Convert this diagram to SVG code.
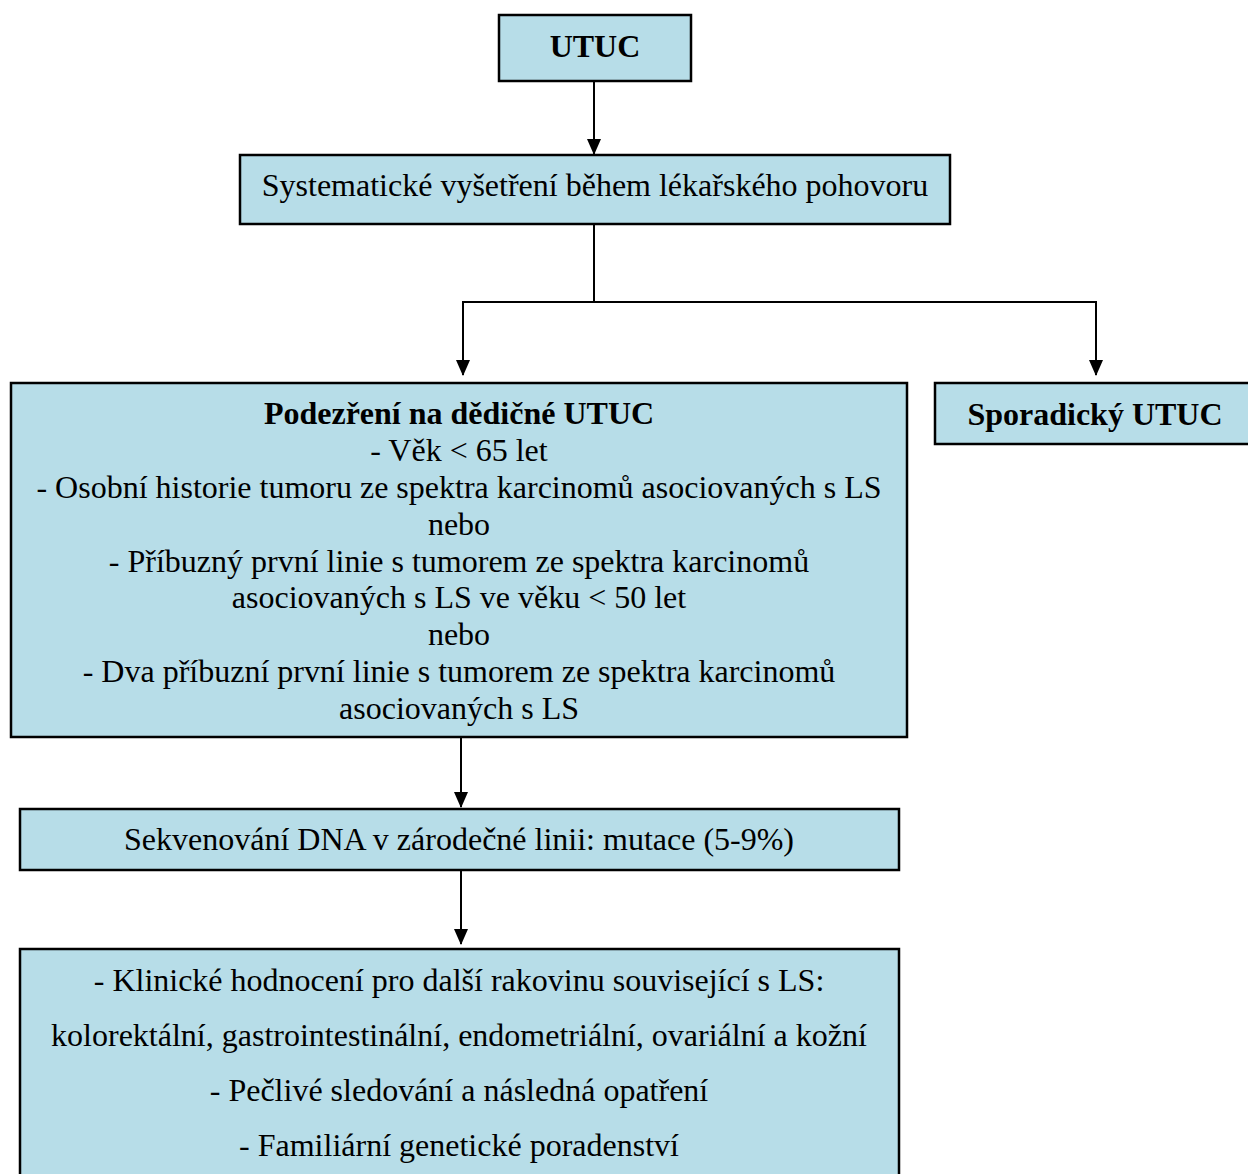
<svg xmlns="http://www.w3.org/2000/svg" width="1248" height="1174" viewBox="0 0 1248 1174">
<style>
.box{fill:#b7dde8;stroke:#000;stroke-width:2.5}
text{font-family:"Liberation Serif","Times New Roman",serif;font-size:32px;fill:#000;text-anchor:middle}
.b{font-weight:bold}
.c{fill:none;stroke:#000;stroke-width:2}
</style>
<defs>
<marker id="ah" markerWidth="16" markerHeight="14" refX="15" refY="7" orient="auto" markerUnits="userSpaceOnUse">
<path d="M0,0 L16,7 L0,14 Z" fill="#000"/>
</marker>
</defs>
<rect width="1248" height="1174" fill="#fff"/>
<g id="connectors">
<path class="c" d="M594,81 V154" marker-end="url(#ah)"/>
<path class="c" d="M594,224 V302 H463 V375" marker-end="url(#ah)"/>
<path class="c" d="M594,302 H1096 V375" marker-end="url(#ah)"/>
<path class="c" d="M461,735 V807" marker-end="url(#ah)"/>
<path class="c" d="M461,870 V944" marker-end="url(#ah)"/>
</g>
<g id="utuc">
<rect class="box" x="499" y="15" width="192" height="66"/>
<text class="b" x="595" y="57">UTUC</text>
</g>
<g id="systematicke">
<rect class="box" x="240" y="155" width="710" height="69"/>
<text x="595" y="196">Systematické vyšetření během lékařského pohovoru</text>
</g>
<g id="podezreni">
<rect class="box" x="11" y="383" width="896" height="354"/>
<text class="b" x="459" y="424">Podezření na dědičné UTUC</text>
<text x="459" y="461">- Věk &lt; 65 let</text>
<text x="459" y="498">- Osobní historie tumoru ze spektra karcinomů asociovaných s LS</text>
<text x="459" y="535">nebo</text>
<text x="459" y="572">- Příbuzný první linie s tumorem ze spektra karcinomů</text>
<text x="459" y="608">asociovaných s LS ve věku &lt; 50 let</text>
<text x="459" y="645">nebo</text>
<text x="459" y="682">- Dva příbuzní první linie s tumorem ze spektra karcinomů</text>
<text x="459" y="719">asociovaných s LS</text>
</g>
<g id="sporadicky">
<rect class="box" x="935" y="383" width="320" height="61"/>
<text class="b" x="1095" y="425">Sporadický UTUC</text>
</g>
<g id="sekvenovani">
<rect class="box" x="20" y="809" width="879" height="61"/>
<text x="459" y="850">Sekvenování DNA v zárodečné linii: mutace (5-9%)</text>
</g>
<g id="klinicke">
<rect class="box" x="20" y="949" width="879" height="240"/>
<text x="459" y="991">- Klinické hodnocení pro další rakovinu související s LS:</text>
<text x="459" y="1046">kolorektální, gastrointestinální, endometriální, ovariální a kožní</text>
<text x="459" y="1101">- Pečlivé sledování a následná opatření</text>
<text x="459" y="1156">- Familiární genetické poradenství</text>
</g>
</svg>
